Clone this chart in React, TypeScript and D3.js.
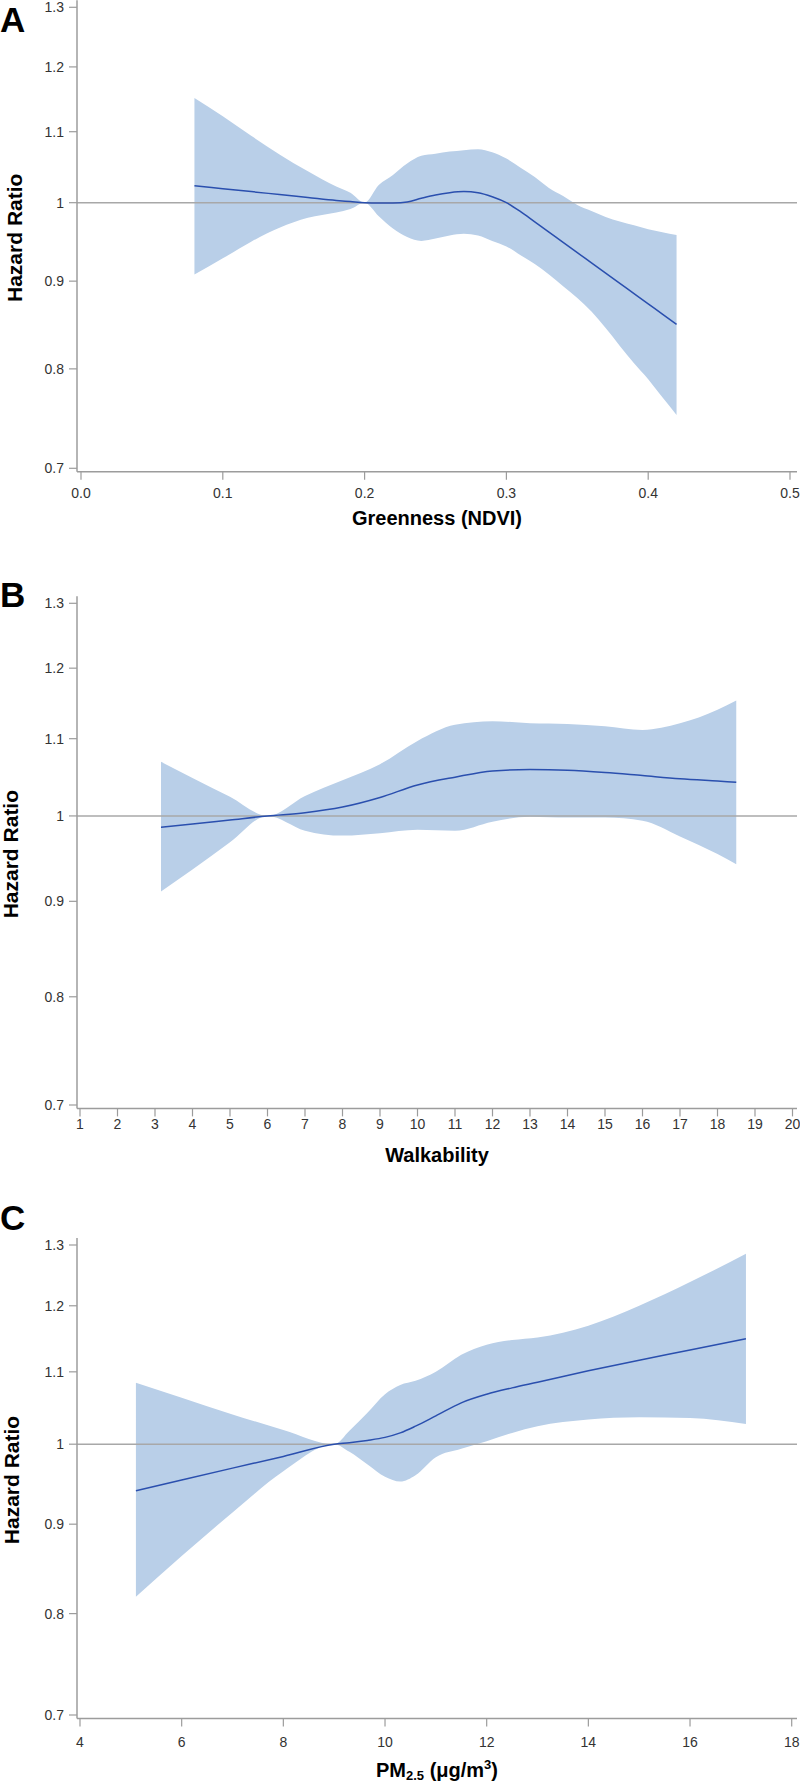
import React from "react";
import * as d3 from "d3";

// ---------- shared y axis (log-scaled hazard ratio) ----------
const hrTicks = [0.7, 0.8, 0.9, 1, 1.1, 1.2, 1.3];
const hrTickLabels = ["0.7", "0.8", "0.9", "1", "1.1", "1.2", "1.3"];

// ---------- Panel A: Greenness (NDVI) ----------
const greenX = [0.08, 0.10, 0.12, 0.14, 0.16, 0.18, 0.19, 0.20, 0.21, 0.22, 0.23, 0.24, 0.25, 0.26, 0.27, 0.28, 0.29, 0.30, 0.31, 0.32, 0.33, 0.34, 0.35, 0.36, 0.37, 0.38, 0.39, 0.40, 0.41, 0.42];
const greenHR = [1.023, 1.019, 1.015, 1.011, 1.007, 1.003, 1.0015, 1.0, 0.9995, 0.9997, 1.001, 1.006, 1.0105, 1.0135, 1.015, 1.0135, 1.008, 1.0, 0.988, 0.9745, 0.9612, 0.948, 0.9351, 0.9223, 0.9097, 0.8973, 0.8851, 0.873, 0.8611, 0.8493];
const greenUpper = [1.151, 1.123, 1.094, 1.067, 1.043, 1.022, 1.0135, 1.0, 1.024, 1.038, 1.054, 1.065, 1.068, 1.071, 1.073, 1.0745, 1.07, 1.061, 1.048, 1.035, 1.02, 1.009, 0.997, 0.989, 0.981, 0.975, 0.97, 0.965, 0.961, 0.9575];
const greenLower = [0.908, 0.928, 0.949, 0.967, 0.98, 0.987, 0.9915, 1.0, 0.982, 0.966, 0.955, 0.95, 0.953, 0.957, 0.959, 0.957, 0.95, 0.943, 0.932, 0.921, 0.908, 0.894, 0.88, 0.864, 0.845, 0.825, 0.806, 0.789, 0.77, 0.752];
const greenTicks = [0, 0.1, 0.2, 0.3, 0.4, 0.5];
const greenTickLabels = ["0.0", "0.1", "0.2", "0.3", "0.4", "0.5"];

// ---------- Panel B: Walkability ----------
const walkX = [3.16, 4, 5, 6, 7, 8, 9, 10, 11, 12, 13, 14, 15, 16, 17, 18, 18.5];
const walkHR = [0.986, 0.99, 0.995, 1.0, 1.004, 1.011, 1.023, 1.039, 1.049, 1.057, 1.059, 1.058, 1.055, 1.051, 1.047, 1.044, 1.0425];
const walkUpper = [1.069, 1.048, 1.024, 1.0, 1.025, 1.045, 1.066, 1.097, 1.119, 1.124, 1.121, 1.12, 1.117, 1.112, 1.121, 1.14, 1.153];
const walkLower = [0.911, 0.936, 0.968, 1.0, 0.982, 0.976, 0.979, 0.983, 0.982, 0.993, 0.999, 0.998, 0.998, 0.994, 0.975, 0.954, 0.942];
const walkTicks = [1, 2, 3, 4, 5, 6, 7, 8, 9, 10, 11, 12, 13, 14, 15, 16, 17, 18, 19, 20];
const walkTickLabels = ["1", "2", "3", "4", "5", "6", "7", "8", "9", "10", "11", "12", "13", "14", "15", "16", "17", "18", "19", "20"];

// ---------- Panel C: PM2.5 ----------
const pmX = [5.1, 6, 7, 8, 9, 9.3, 9.65, 10, 10.3, 10.6, 11, 11.5, 12, 12.5, 13, 14, 15, 16, 17.1];
const pmHR = [0.9406, 0.954, 0.969, 0.984, 1.0, 1.002, 1.005, 1.009, 1.015, 1.024, 1.038, 1.056, 1.068, 1.077, 1.085, 1.1015, 1.117, 1.132, 1.149];
const pmUpper = [1.0844, 1.063, 1.04, 1.019, 1.0, 1.018, 1.042, 1.068, 1.081, 1.087, 1.1, 1.125, 1.14, 1.147, 1.151, 1.169, 1.2, 1.238, 1.285];
const pmLower = [0.818, 0.863, 0.914, 0.965, 1.0, 0.99, 0.974, 0.958, 0.952, 0.96, 0.983, 0.994, 1.004, 1.015, 1.024, 1.033, 1.036, 1.035, 1.027];
const pmTicks = [4, 6, 8, 10, 12, 14, 16, 18];
const pmTickLabels = ["4", "6", "8", "10", "12", "14", "16", "18"];

const FONT = "'Liberation Sans', Arial, Helvetica, sans-serif";
const AXIS = "#9c9c9c";
const BAND = "#b9cfe8";
const LINE = "#2a4fae";
const TEXT = "#333333";

type PanelProps = {
  letter: string;
  letterBase: number;
  xs: number[];
  hr: number[];
  hi: number[];
  lo: number[];
  xDomain: [number, number];
  xRange: [number, number];
  xTicks: number[];
  xTickLabels: string[];
  yTop: number;
  yBottom: number;
  yTitleX: number;
  xTitle: React.ReactNode;
  xTitleBase: number;
  xTickOffset: number;
};

function Panel(p: PanelProps) {
  const x = d3.scaleLinear().domain(p.xDomain).range(p.xRange);
  const y = d3.scaleLog().domain([0.7, 1.3]).range([p.yBottom, p.yTop]);
  const pts = p.xs.map((v, i) => ({ x: v, hr: p.hr[i], hi: p.hi[i], lo: p.lo[i] }));
  const area = d3
    .area<any>()
    .x((d) => x(d.x))
    .y0((d) => y(d.lo))
    .y1((d) => y(d.hi))
    .curve(d3.curveMonotoneX);
  const line = d3
    .line<any>()
    .x((d) => x(d.x))
    .y((d) => y(d.hr))
    .curve(d3.curveMonotoneX);
  const axisX = 77;
  const axisY = p.yBottom + 3.4;
  const rightX = 797;
  const yMid = (p.yTop + p.yBottom) / 2;
  return (
    <g>
      <text x={0} y={p.letterBase} fontFamily={FONT} fontWeight="bold" fontSize={35} fill="#000">
        {p.letter}
      </text>
      <path d={area(pts) || ""} fill={BAND} stroke="none" />
      <line x1={axisX} x2={rightX} y1={y(1)} y2={y(1)} stroke="#a8a8a8" strokeWidth={1.5} />
      <path d={line(pts) || ""} fill="none" stroke={LINE} strokeWidth={1.5} />
      {/* y axis */}
      <line x1={axisX} x2={axisX} y1={p.yTop - 7} y2={axisY} stroke={AXIS} strokeWidth={1.5} />
      {hrTicks.map((t, i) => (
        <g key={"y" + i}>
          <line x1={axisX - 8} x2={axisX} y1={y(t)} y2={y(t)} stroke={AXIS} strokeWidth={1.2} />
          <text x={64} y={y(t)} dy="0.35em" textAnchor="end" fontFamily={FONT} fontSize={14} fill={TEXT}>
            {hrTickLabels[i]}
          </text>
        </g>
      ))}
      {/* x axis */}
      <line x1={axisX} x2={rightX} y1={axisY} y2={axisY} stroke={AXIS} strokeWidth={1.5} />
      {p.xTicks.map((t, i) => (
        <g key={"x" + i}>
          <line x1={x(t)} x2={x(t)} y1={axisY} y2={axisY + 8} stroke={AXIS} strokeWidth={1.2} />
          <text x={x(t)} y={axisY + p.xTickOffset} dy="0.35em" textAnchor="middle" fontFamily={FONT} fontSize={14} fill={TEXT}>
            {p.xTickLabels[i]}
          </text>
        </g>
      ))}
      <text
        transform={`translate(${p.yTitleX},${yMid}) rotate(-90)`}
        textAnchor="middle"
        fontFamily={FONT}
        fontWeight="bold"
        fontSize={21}
        fill="#000"
      >
        Hazard Ratio
      </text>
      <text x={437} y={p.xTitleBase} textAnchor="middle" fontFamily={FONT} fontWeight="bold" fontSize={20} fill="#000">
        {p.xTitle}
      </text>
    </g>
  );
}

export default function App() {
  return (
    <svg
      width={800}
      height={1785}
      viewBox="0 0 800 1785"
      style={{ position: "absolute", left: 0, top: 0, background: "#fff" }}
    >
      <rect x={0} y={0} width={800} height={1785} fill="#fff" />
      <Panel
        letter="A"
        letterBase={32}
        xs={greenX}
        hr={greenHR}
        hi={greenUpper}
        lo={greenLower}
        xDomain={[0, 0.5]}
        xRange={[81, 790]}
        xTicks={greenTicks}
        xTickLabels={greenTickLabels}
        yTop={7.3}
        yBottom={468.3}
        yTitleX={21.5}
        xTitle="Greenness (NDVI)"
        xTitleBase={525}
        xTickOffset={21.5}
      />
      <Panel
        letter="B"
        letterBase={607}
        xs={walkX}
        hr={walkHR}
        hi={walkUpper}
        lo={walkLower}
        xDomain={[1, 20]}
        xRange={[80, 792.5]}
        xTicks={walkTicks}
        xTickLabels={walkTickLabels}
        yTop={603.3}
        yBottom={1105}
        yTitleX={18}
        xTitle="Walkability"
        xTitleBase={1162}
        xTickOffset={16}
      />
      <Panel
        letter="C"
        letterBase={1230}
        xs={pmX}
        hr={pmHR}
        hi={pmUpper}
        lo={pmLower}
        xDomain={[4, 18]}
        xRange={[80, 791.7]}
        xTicks={pmTicks}
        xTickLabels={pmTickLabels}
        yTop={1245}
        yBottom={1715}
        yTitleX={19}
        xTitle={
          <>
            <tspan>PM</tspan>
            <tspan fontSize={13} dy={3}>2.5</tspan>
            <tspan dy={-3}> (μg/m</tspan>
            <tspan fontSize={13} dy={-8}>3</tspan>
            <tspan dy={8}>)</tspan>
          </>
        }
        xTitleBase={1777}
        xTickOffset={23.4}
      />
    </svg>
  );
}
